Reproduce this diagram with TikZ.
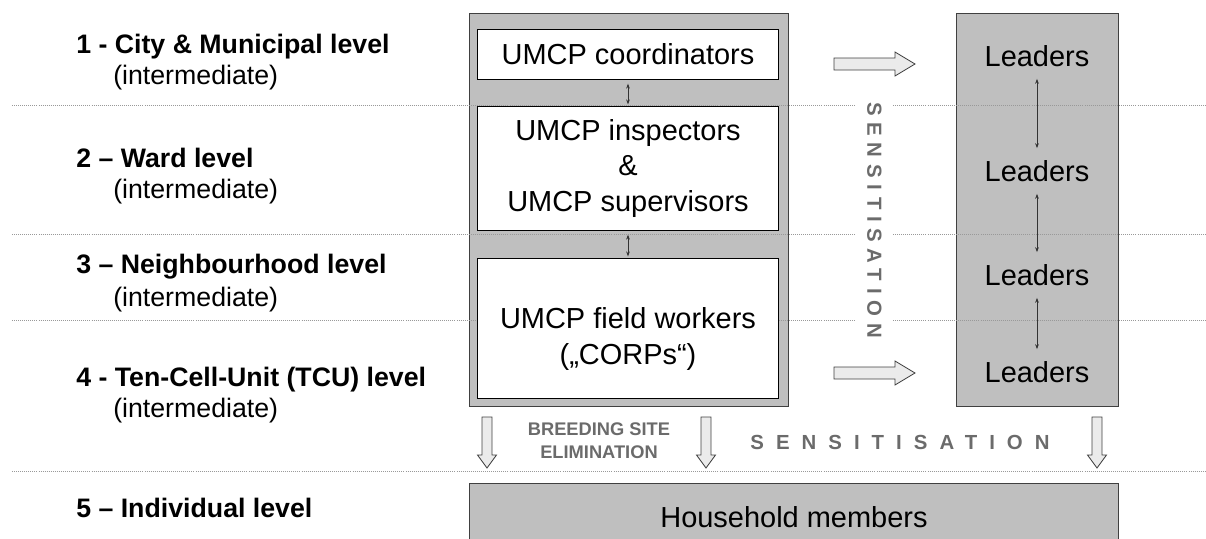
\documentclass[tikz,border=0pt]{standalone}
\usepackage{fontspec}
\setmainfont{Liberation Sans}
\usetikzlibrary{arrows.meta}

\begin{document}
\begin{tikzpicture}
  [x=0.025cm, y=-0.025cm,
   panel/.style={draw=black!75, fill=black!25, line width=0.7pt, inner sep=0pt},
   unit/.style={draw=black, fill=white, line width=0.7pt, inner sep=0pt, minimum width=7.5cm,
                align=center, font=\fontsize{20.6}{25}\selectfont},
   leader/.style={inner sep=7pt, font=\fontsize{20.6}{25}\selectfont},
   level/.style={anchor=base west, inner sep=0pt, font=\bfseries\fontsize{19}{23}\selectfont},
   sublevel/.style={anchor=base west, inner sep=0pt, font=\fontsize{19}{23}\selectfont},
   sep/.style={densely dotted, draw=black!40, line width=0.45pt},
   link/.style={<->, >={Stealth[length=3.5pt,width=2.6pt]}, draw=black!80, line width=0.5pt},
   push/.style={draw=black!75, fill=black!8, line width=0.6pt, line join=miter},
   grey text/.style={text=black!58, inner sep=0pt}]
  \useasboundingbox (0,0) rectangle (1206,539);
  \clip (0,0) rectangle (1206,539);

  \node[panel, minimum width=7.95cm, minimum height=9.8cm] (umcp) at (629,210) {};
  \node[panel, minimum width=4.025cm, minimum height=9.8cm] (leadpanel) at (1037.5,210) {};
  \node[panel, minimum width=16.2cm, minimum height=1.7cm,
        font=\fontsize{20.6}{25}\selectfont] (house) at (794,517) {Household members};

  \foreach \y in {105,234,320,471}
    \draw[sep] (12,\y) -- (1205,\y);

  \node[unit, minimum height=1.25cm] (coord) at (628,54) {UMCP coordinators};
  \node[unit, minimum height=3.075cm] (insp) at (628,168.5)
    {UMCP inspectors\\\&\\UMCP supervisors};
  \node[unit, minimum height=3.475cm] (field) at (628,328.5) {};
  \node[unit, draw=none, fill=none, minimum width=0pt] (fieldtxt) at (628,339)
    {UMCP field workers\\(„CORPs“)};
  \draw[link, shorten <=3pt, shorten >=1.5pt] (coord) -- (insp);
  \draw[link, shorten <=3pt, shorten >=1.5pt] (insp) -- (field);

  \node[leader] (l1) at (1037,56) {Leaders};
  \node[leader] (l2) at (1037,171) {Leaders};
  \node[leader] (l3) at (1037,275) {Leaders};
  \node[leader] (l4) at (1037,372) {Leaders};
  \draw[link, shorten <=1.5pt, shorten >=1.5pt] (l1) -- (l2);
  \draw[link, shorten <=1.5pt, shorten >=1.5pt] (l2) -- (l3);
  \draw[link, shorten <=1.5pt, shorten >=1.5pt] (l3) -- (l4);

  \node[level] (lev1) at (76,53) {1 - City \& Municipal level};
  \node[sublevel] (sub1) at (113,85) {(intermediate)};
  \node[level] (lev2) at (76,167) {2 – Ward level};
  \node[sublevel] (sub2) at (113,198) {(intermediate)};
  \node[level] (lev3) at (76,273) {3 – Neighbourhood level};
  \node[sublevel] (sub3) at (113,306) {(intermediate)};
  \node[level] (lev4) at (76,386) {4 - Ten-Cell-Unit (TCU) level};
  \node[sublevel] (sub4) at (113,417) {(intermediate)};
  \node[level] (lev5) at (76,517) {5 – Individual level};

  \foreach \y in {64,373}
    \draw[push] (834,\y) ++(0,-6) -- ++(61,0) -- ++(0,-6) -- ++(20,12) -- ++(-20,12)
      -- ++(0,-6) -- ++(-61,0) -- cycle;
  \foreach \x in {487,706,1097}
    \draw[push] (\x,417) ++(-5,0) -- ++(0,38) -- ++(-4.5,0) -- ++(9.5,13) -- ++(9.5,-13)
      -- ++(-4.5,0) -- ++(0,-38) -- cycle;

  \node[grey text, fill=white, inner sep=8pt, rotate=-90,
        font=\bfseries\fontsize{14.5}{17}\selectfont\addfontfeatures{LetterSpace=33}]
    (senseup) at (874.5,220) {SENSITISATION};
  \node[grey text, font=\bfseries\fontsize{14.5}{17}\selectfont\addfontfeatures{LetterSpace=59}]
    (senseacross) at (900,442.5) {SENSITISATION};
  \node[grey text, align=center, font=\bfseries\fontsize{13}{16.4}\selectfont]
    (breed) at (599,440.5) {BREEDING SITE\\ELIMINATION};
\end{tikzpicture}
\end{document}
